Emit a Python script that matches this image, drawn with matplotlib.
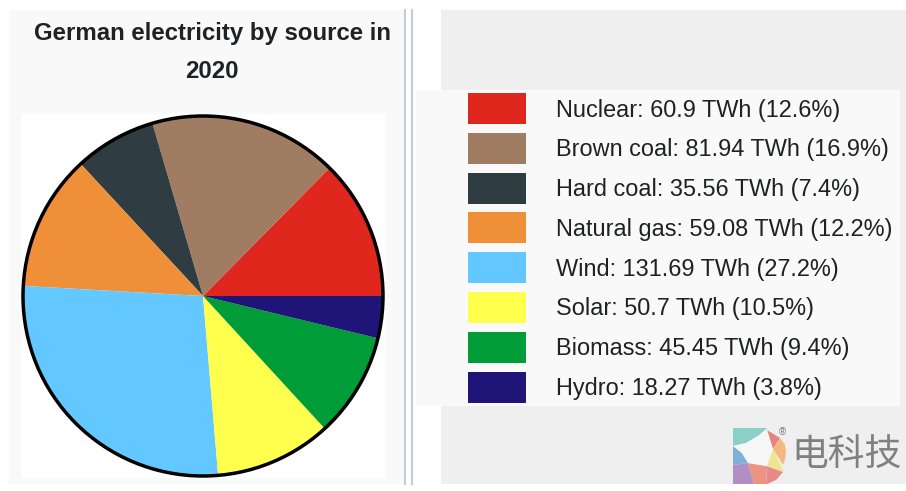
import matplotlib
matplotlib.use('Agg')
import matplotlib.pyplot as plt
from matplotlib.patches import Rectangle, Circle, Polygon

# DATA
sources = ['Nuclear', 'Brown coal', 'Hard coal', 'Natural gas', 'Wind', 'Solar', 'Biomass', 'Hydro']
twh = [60.9, 81.94, 35.56, 59.08, 131.69, 50.7, 45.45, 18.27]
twh_labels = ['60.9', '81.94', '35.56', '59.08', '131.69', '50.7', '45.45', '18.27']
shares = [12.6, 16.9, 7.4, 12.2, 27.2, 10.5, 9.4, 3.8]
colors = ['#e0271e', '#a07d62', '#2f3c42', '#ef8f37', '#62c8ff', '#ffff4d', '#009c37', '#1f1477']
title_lines = ['German electricity by source in', '2020']
watermark = '电科技'

plt.rcParams['font.family'] = ['Liberation Sans', 'DejaVu Sans']

fig = plt.figure(figsize=(9.06, 4.91), dpi=100, facecolor='white')
ax = fig.add_axes([0, 0, 1, 1])

# page panels
ax.add_patch(Rectangle((9, 10), 395, 474, fc='#f9f9f9', ec='none'))
ax.add_patch(Rectangle((441, 10), 465, 474, fc='#efefef', ec='none'))
ax.add_patch(Rectangle((416, 90), 484, 316, fc='#f9f9f9', ec='none'))
ax.add_patch(Rectangle((21, 114), 364, 364, fc='white', ec='none'))
ax.plot([404.5, 404.5], [10, 484], color='#c8ccd1', lw=1.5)
ax.plot([411.5, 411.5], [10, 484], color='#c8ccd1', lw=1.5)

# title
ax.text(212, 33, title_lines[0], ha='center', va='center', fontsize=17.3,
        fontweight='bold', color='#202122')
ax.text(212, 71, title_lines[1], ha='center', va='center', fontsize=17.3,
        fontweight='bold', color='#202122')

# pie, y axis is flipped so clockwise here reads counterclockwise on screen
ax.pie(twh, colors=colors, startangle=0, counterclock=False, center=(203, 296), radius=180,
       frame=True, wedgeprops={'linewidth': 0})
ax.add_patch(Circle((203, 296), 180, fc='none', ec='black', lw=2.5))

# legend rows
row_top = 93
row_step = 39.8
for i, name in enumerate(sources):
    y = row_top + i * row_step
    ax.add_patch(Rectangle((468, y), 58, 31, fc=colors[i], ec='none'))
    ax.text(556, y + 17, f'{name}: {twh_labels[i]} TWh ({shares[i]}%)', ha='left', va='center',
            fontsize=16.9, color='#202122')

# watermark logo
ax.add_patch(Polygon([(733, 428), (767, 428), (758, 436), (746, 443), (733, 446)], fc='#8bd0c6', ec='none'))
ax.add_patch(Polygon([(767, 430), (780, 438), (773, 449)], fc='#e88383', ec='none'))
ax.add_patch(Polygon([(780, 438), (785, 445), (786, 453), (785, 460), (783, 465), (773, 449)], fc='#f0b982', ec='none'))
ax.add_patch(Polygon([(773, 449), (784, 472), (767, 466)], fc='#f0e58f', ec='none'))
ax.add_patch(Polygon([(766, 466), (783, 472), (776, 480), (767, 484)], fc='#e98a8a', ec='none'))
ax.add_patch(Polygon([(748, 463), (766, 466), (767, 484), (754, 484)], fc='#ec9482', ec='none'))
ax.add_patch(Polygon([(733, 465), (748, 463), (754, 484), (733, 484)], fc='#b18fc4', ec='none'))
ax.add_patch(Polygon([(733, 446), (742, 453), (748, 463), (733, 465)], fc='#7fb1d8', ec='none'))
ax.add_patch(Polygon([(733, 446), (746, 443), (758, 436), (767, 430), (773, 449), (767, 466), (748, 463), (742, 453)],
                     fc='#f6f6f6', ec='none'))
ax.text(782, 432, '®', ha='center', va='center', fontsize=7, color='#777777')
ax.text(791, 455, watermark, ha='left', va='center', fontsize=26.5, color='#808080',
        fontweight='light', family=['Noto Sans CJK SC', 'DejaVu Sans'])

ax.set_xlim(0, 906)
ax.set_ylim(491, 0)
ax.set_aspect('auto')
ax.axis('off')

fig.savefig('out.png', dpi=100)
